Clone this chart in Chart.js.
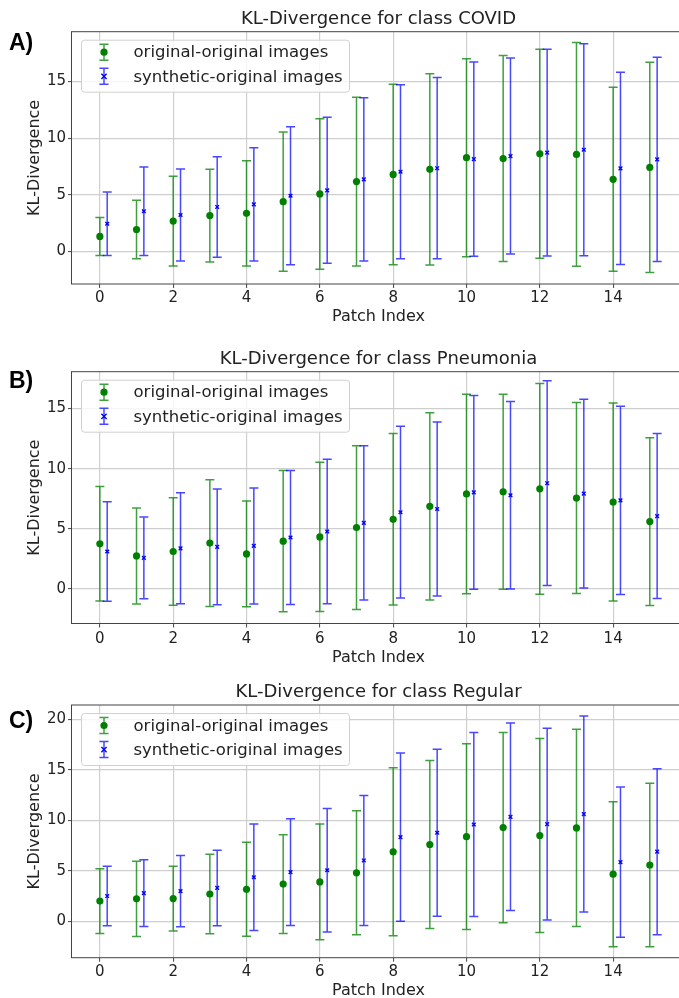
<!DOCTYPE html>
<html>
<head>
<meta charset="utf-8">
<script src="https://cdn.jsdelivr.net/npm/chart.js@4.4.0/dist/chart.umd.min.js"></script>
<style>
  html, body { margin: 0; padding: 0; background: #fff; overflow: hidden; width: 679px; height: 998px; }
  canvas { position: absolute; left: 0; }
</style>
</head>
<body>
<canvas id="chartA" width="700" height="332" style="top:0px"></canvas>
<canvas id="chartB" width="700" height="334" style="top:332px"></canvas>
<canvas id="chartC" width="700" height="332" style="top:666px"></canvas>
<script>
// --- data ---
const patchIndex = [0, 1, 2, 3, 4, 5, 6, 7, 8, 9, 10, 11, 12, 13, 14, 15];
const xTicks = [0, 2, 4, 6, 8, 10, 12, 14];
const seriesLabels = ["original-original images", "synthetic-original images"];
const synthOffset = 0.2;

// COVID
const covidOrigMean  = [1.33, 1.94, 2.68, 3.17, 3.37, 4.40, 5.08, 6.17, 6.80, 7.25, 8.28, 8.20, 8.62, 8.57, 6.37, 7.42];
const covidOrigStd   = [1.68, 2.59, 3.97, 4.09, 4.65, 6.15, 6.64, 7.45, 7.97, 8.44, 8.74, 9.09, 9.22, 9.87, 8.12, 9.28];
const covidSynthMean = [2.45, 3.55, 3.22, 3.93, 4.16, 4.92, 5.40, 6.37, 7.04, 7.35, 8.15, 8.42, 8.72, 8.98, 7.34, 8.13];
const covidSynthStd  = [2.80, 3.90, 4.06, 4.44, 5.00, 6.09, 6.44, 7.21, 7.68, 8.00, 8.58, 8.65, 9.12, 9.35, 8.49, 9.02];
const covidYTicks = [0, 5, 10, 15];

// Pneumonia
const pneuOrigMean  = [3.76, 2.75, 3.12, 3.82, 2.92, 3.98, 4.33, 5.11, 5.79, 6.87, 7.90, 8.08, 8.32, 7.56, 7.23, 5.60];
const pneuOrigStd   = [4.75, 3.99, 4.46, 5.26, 4.39, 5.86, 6.20, 6.80, 7.12, 7.77, 8.28, 8.10, 8.76, 7.93, 8.22, 6.96];
const pneuSynthMean = [3.12, 2.59, 3.38, 3.50, 3.58, 4.28, 4.78, 5.50, 6.38, 6.65, 8.03, 7.79, 8.79, 7.93, 7.37, 6.06];
const pneuSynthStd  = [4.13, 3.39, 4.61, 4.81, 4.82, 5.57, 6.01, 6.41, 7.13, 7.23, 8.04, 7.78, 8.50, 7.84, 7.82, 6.85];
const pneuYTicks = [0, 5, 10, 15];

// Regular
const regOrigMean  = [2.00, 2.22, 2.25, 2.70, 3.17, 3.68, 3.90, 4.80, 6.88, 7.60, 8.37, 9.27, 8.49, 9.24, 4.66, 5.57];
const regOrigStd   = [3.20, 3.72, 3.20, 3.94, 4.65, 4.89, 5.72, 6.13, 8.32, 8.30, 9.19, 9.42, 9.59, 9.76, 7.17, 8.09];
const regSynthMean = [2.50, 2.79, 2.98, 3.30, 4.36, 4.87, 5.05, 6.02, 8.33, 8.76, 9.58, 10.34, 9.62, 10.61, 5.86, 6.89];
const regSynthStd  = [2.95, 3.31, 3.53, 3.73, 5.26, 5.28, 6.11, 6.43, 8.32, 8.27, 9.10, 9.28, 9.49, 9.69, 7.43, 8.21];
const regYTicks = [0, 5, 10, 15, 20];

// axis limits (matplotlib auto margins)
const xMin = -0.76, xMax = 15.96;

// --- styles ---
const FONT = "'DejaVu Sans', sans-serif";
const GREEN = "#008000";
const BLUE = "#0000ff";
const TEXT = "#222";
const CAP = 4.5;

function drawBar(ctx, px, lo, hi) {
  ctx.beginPath();
  ctx.moveTo(px, lo); ctx.lineTo(px, hi);
  ctx.moveTo(px - CAP, lo); ctx.lineTo(px + CAP, lo);
  ctx.moveTo(px - CAP, hi); ctx.lineTo(px + CAP, hi);
  ctx.stroke();
}

function drawMarker(ctx, ds, px, py) {
  if (ds.pointStyle === "circle") {
    ctx.fillStyle = ds.backgroundColor;
    ctx.beginPath(); ctx.arc(px, py, ds.pointRadius, 0, Math.PI * 2); ctx.fill();
  } else {
    const r = ds.pointRadius;
    ctx.strokeStyle = ds.borderColor;
    ctx.lineWidth = ds.borderWidth;
    ctx.beginPath();
    ctx.moveTo(px - r, py - r); ctx.lineTo(px + r, py + r);
    ctx.moveTo(px - r, py + r); ctx.lineTo(px + r, py - r);
    ctx.stroke();
  }
}

// error bars drawn under the markers
const errorBarPlugin = {
  id: "errorBars",
  beforeDatasetsDraw(chart) {
    const { ctx, scales: { x, y } } = chart;
    ctx.save();
    chart.data.datasets.forEach((ds) => {
      ctx.strokeStyle = ds.barColor;
      ctx.lineWidth = 1.5;
      ds.data.forEach((p, i) => {
        const px = x.getPixelForValue(p.x);
        drawBar(ctx, px, y.getPixelForValue(p.y - ds.errorBars[i]), y.getPixelForValue(p.y + ds.errorBars[i]));
      });
    });
    ctx.restore();
  }
};

// frame, title, panel tag, legend
const decorPlugin = {
  id: "decor",
  afterDraw(chart, args, opts) {
    const { ctx, chartArea: a } = chart;
    ctx.save();
    ctx.strokeStyle = "#444";
    ctx.lineWidth = 1;
    ctx.strokeRect(a.left - 0.5, a.top, a.right - a.left + 1, a.bottom - a.top);

    ctx.fillStyle = TEXT;
    ctx.font = "18px " + FONT;
    ctx.textAlign = "center";
    ctx.textBaseline = "alphabetic";
    ctx.fillText(opts.title, (a.left + a.right) / 2, a.top - 8);

    ctx.font = "bold 23px 'Liberation Sans', Arial, sans-serif";
    ctx.textAlign = "left";
    ctx.fillStyle = "#000";
    ctx.fillText(opts.tag, 9, opts.tagY);

    const bx = a.left + 9, by = a.top + 8, bw = 268, bh = 52;
    ctx.beginPath();
    ctx.roundRect(bx + 0.5, by + 0.5, bw, bh, 3);
    ctx.fillStyle = "rgba(255,255,255,0.8)";
    ctx.fill();
    ctx.strokeStyle = "#d0d0d0";
    ctx.lineWidth = 1;
    ctx.stroke();
    const rows = [by + 12.5, by + 36.6];
    chart.data.datasets.forEach((ds, d) => {
      const cy = rows[d], ix = bx + 23;
      ctx.strokeStyle = ds.barColor;
      ctx.lineWidth = 1.5;
      drawBar(ctx, ix, cy + 8, cy - 8);
      drawMarker(ctx, ds, ix, cy);
      ctx.fillStyle = TEXT;
      ctx.font = "16.5px " + FONT;
      ctx.textAlign = "left";
      ctx.textBaseline = "middle";
      ctx.fillText(ds.label, bx + 52.5, cy + 1);
    });
    ctx.restore();
  }
};

function makeChart(id, cfg) {
  const canvas = document.getElementById(id);
  const H = canvas.height;
  const toPoints = (mean, off) => patchIndex.map((p, i) => ({ x: p + off, y: mean[i] }));
  const gridOpts = { color: "#cfcfcf", lineWidth: 1.2, drawTicks: true, tickLength: 4, tickColor: "#444", tickWidth: 1 };
  return new Chart(canvas, {
    type: "scatter",
    data: {
      datasets: [
        {
          label: seriesLabels[0], data: toPoints(cfg.origMean, 0), errorBars: cfg.origStd,
          borderColor: GREEN, backgroundColor: GREEN, barColor: "rgba(0,128,0,0.75)",
          pointStyle: "circle", pointRadius: 3.6, borderWidth: 0, showLine: false
        },
        {
          label: seriesLabels[1], data: toPoints(cfg.synthMean, synthOffset), errorBars: cfg.synthStd,
          borderColor: BLUE, backgroundColor: BLUE, barColor: "rgba(0,0,255,0.72)",
          pointStyle: "crossRot", pointRadius: 2.6, borderWidth: 1.4, showLine: false
        }
      ]
    },
    options: {
      responsive: false,
      animation: false,
      events: [],
      layout: { padding: { left: 0, right: 15, top: cfg.plotTop, bottom: 0 } },
      scales: {
        x: {
          type: "linear", min: xMin, max: xMax,
          afterBuildTicks: (s) => { s.ticks = xTicks.map(v => ({ value: v })); },
          afterFit: (s) => { s.height = H - cfg.plotBottom; },
          grid: gridOpts,
          border: { display: false },
          ticks: { color: TEXT, font: { family: FONT, size: 15 }, padding: cfg.xTickPad, maxRotation: 0 },
          title: { display: true, text: "Patch Index", color: TEXT, font: { family: FONT, size: 16 }, padding: { top: 0, bottom: cfg.xTitlePad } }
        },
        y: {
          type: "linear", min: cfg.yMin, max: cfg.yMax,
          afterBuildTicks: (s) => { s.ticks = cfg.yTicks.map(v => ({ value: v })); },
          afterFit: (s) => { s.width = 72; },
          grid: gridOpts,
          border: { display: false },
          ticks: { color: TEXT, font: { family: FONT, size: 15 }, padding: 2 },
          title: { display: true, text: "KL-Divergence", color: TEXT, font: { family: FONT, size: 16 }, padding: { top: 25.5, bottom: 0 } }
        }
      },
      plugins: {
        legend: { display: false },
        tooltip: { enabled: false },
        title: { display: false },
        decor: { title: cfg.title, tag: cfg.tag, tagY: cfg.tagY }
      }
    },
    plugins: [errorBarPlugin, decorPlugin]
  });
}

makeChart("chartA", {
  title: "KL-Divergence for class COVID", tag: "A)", tagY: 50,
  origMean: covidOrigMean, origStd: covidOrigStd, synthMean: covidSynthMean, synthStd: covidSynthStd,
  yMin: -2.87, yMax: 19.4, yTicks: covidYTicks, plotTop: 31.7, plotBottom: 284, xTickPad: 1, xTitlePad: 5.4
});
makeChart("chartB", {
  title: "KL-Divergence for class Pneumonia", tag: "B)", tagY: 56,
  origMean: pneuOrigMean, origStd: pneuOrigStd, synthMean: pneuSynthMean, synthStd: pneuSynthStd,
  yMin: -2.86, yMax: 18.05, yTicks: pneuYTicks, plotTop: 39.7, plotBottom: 291.5, xTickPad: 2.5, xTitlePad: -1.6
});
makeChart("chartC", {
  title: "KL-Divergence for class Regular", tag: "C)", tagY: 62,
  origMean: regOrigMean, origStd: regOrigStd, synthMean: regSynthMean, synthStd: regSynthStd,
  yMin: -3.6, yMax: 21.4, yTicks: regYTicks, plotTop: 39, plotBottom: 291.7, xTickPad: 1, xTitlePad: -2.6
});
</script>
</body>
</html>
